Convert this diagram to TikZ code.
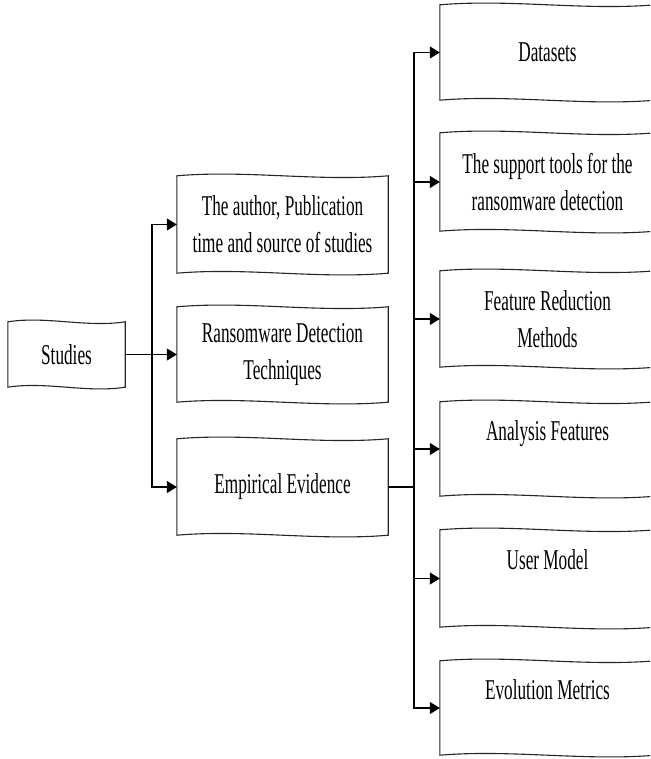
\documentclass[tikz,border=0pt]{standalone}
\usepackage{fontspec}
\newfontfamily\cond[FakeStretch=0.6]{Liberation Serif}
\usetikzlibrary{arrows.meta,calc}
\newcommand\wavyoutline[1]{%
  \draw[outline] (#1.north west)
    .. controls ($(#1.north west)!0.33!(#1.north east)+(0,-6)$) and ($(#1.north west)!0.67!(#1.north east)+(0,6)$) .. (#1.north east)
    -- (#1.south east)
    .. controls ($(#1.south west)!0.67!(#1.south east)+(0,6)$) and ($(#1.south west)!0.33!(#1.south east)+(0,-6)$) .. (#1.south west)
    -- cycle;}
\begin{document}
\begin{tikzpicture}[x=1pt,y=-1pt,
  box/.style={draw=none, inner sep=0pt, align=center,
    font=\cond\fontsize{28.7}{37}\selectfont, text=black},
  outline/.style={draw=black!85, line width=1.1pt},
  conn/.style={draw=black, line width=1.3pt},
  arr/.style={conn, -{Triangle[length=10pt,width=12pt]}}]
\clip (0,0) rectangle (650,759);
\fill[white] (0,0) rectangle (650,759);
% left column
\node[box, minimum width=117pt, minimum height=65pt] (studies) at (66.5,354.5) {Studies};
\node[box, minimum width=211pt, minimum height=97pt] (auth) at (282.5,224.5) {The author, Publication\\time and source of studies};
\node[box, minimum width=211pt, minimum height=95pt] (tech) at (282.5,354.5) {Ransomware Detection\\Techniques};
\node[box, minimum width=211pt, minimum height=96pt] (emp) at (282.5,487) {Empirical Evidence};
% right column
\node[box, minimum width=215pt, minimum height=95pt] (r1) at (547.5,52.5) {Datasets};
\node[box, minimum width=215pt, minimum height=98pt] (r2) at (547.5,182) {The support tools for the\\ransomware detection};
\node[box, minimum width=215pt, minimum height=96pt] (r3) at (547.5,319) {Feature Reduction\\Methods};
\node[box, minimum width=215pt, minimum height=94pt] (r4) at (547.5,449) {Analysis Features\\\mbox{}};
\node[box, minimum width=215pt, minimum height=97pt] (r5) at (547.5,578.5) {User Model\\\mbox{}};
\node[box, minimum width=215pt, minimum height=94pt] (r6) at (547.5,708) {Evolution Metrics\\\mbox{}};
\foreach \n in {studies,auth,tech,emp,r1,r2,r3,r4,r5,r6}{\wavyoutline{\n}}
% connectors
\draw[arr] (studies.east) -- (tech.west);
\coordinate (j1) at (152,354.5);
\draw[arr] (j1) |- (auth.west);
\draw[arr] (j1) |- (emp.west);
\coordinate (j2) at (414,487);
\draw[conn] (emp.east) -- (j2);
\foreach \n in {r1,r2,r3,r4,r5,r6}{\draw[arr] (j2) |- (\n.west);}
\end{tikzpicture}
\end{document}
